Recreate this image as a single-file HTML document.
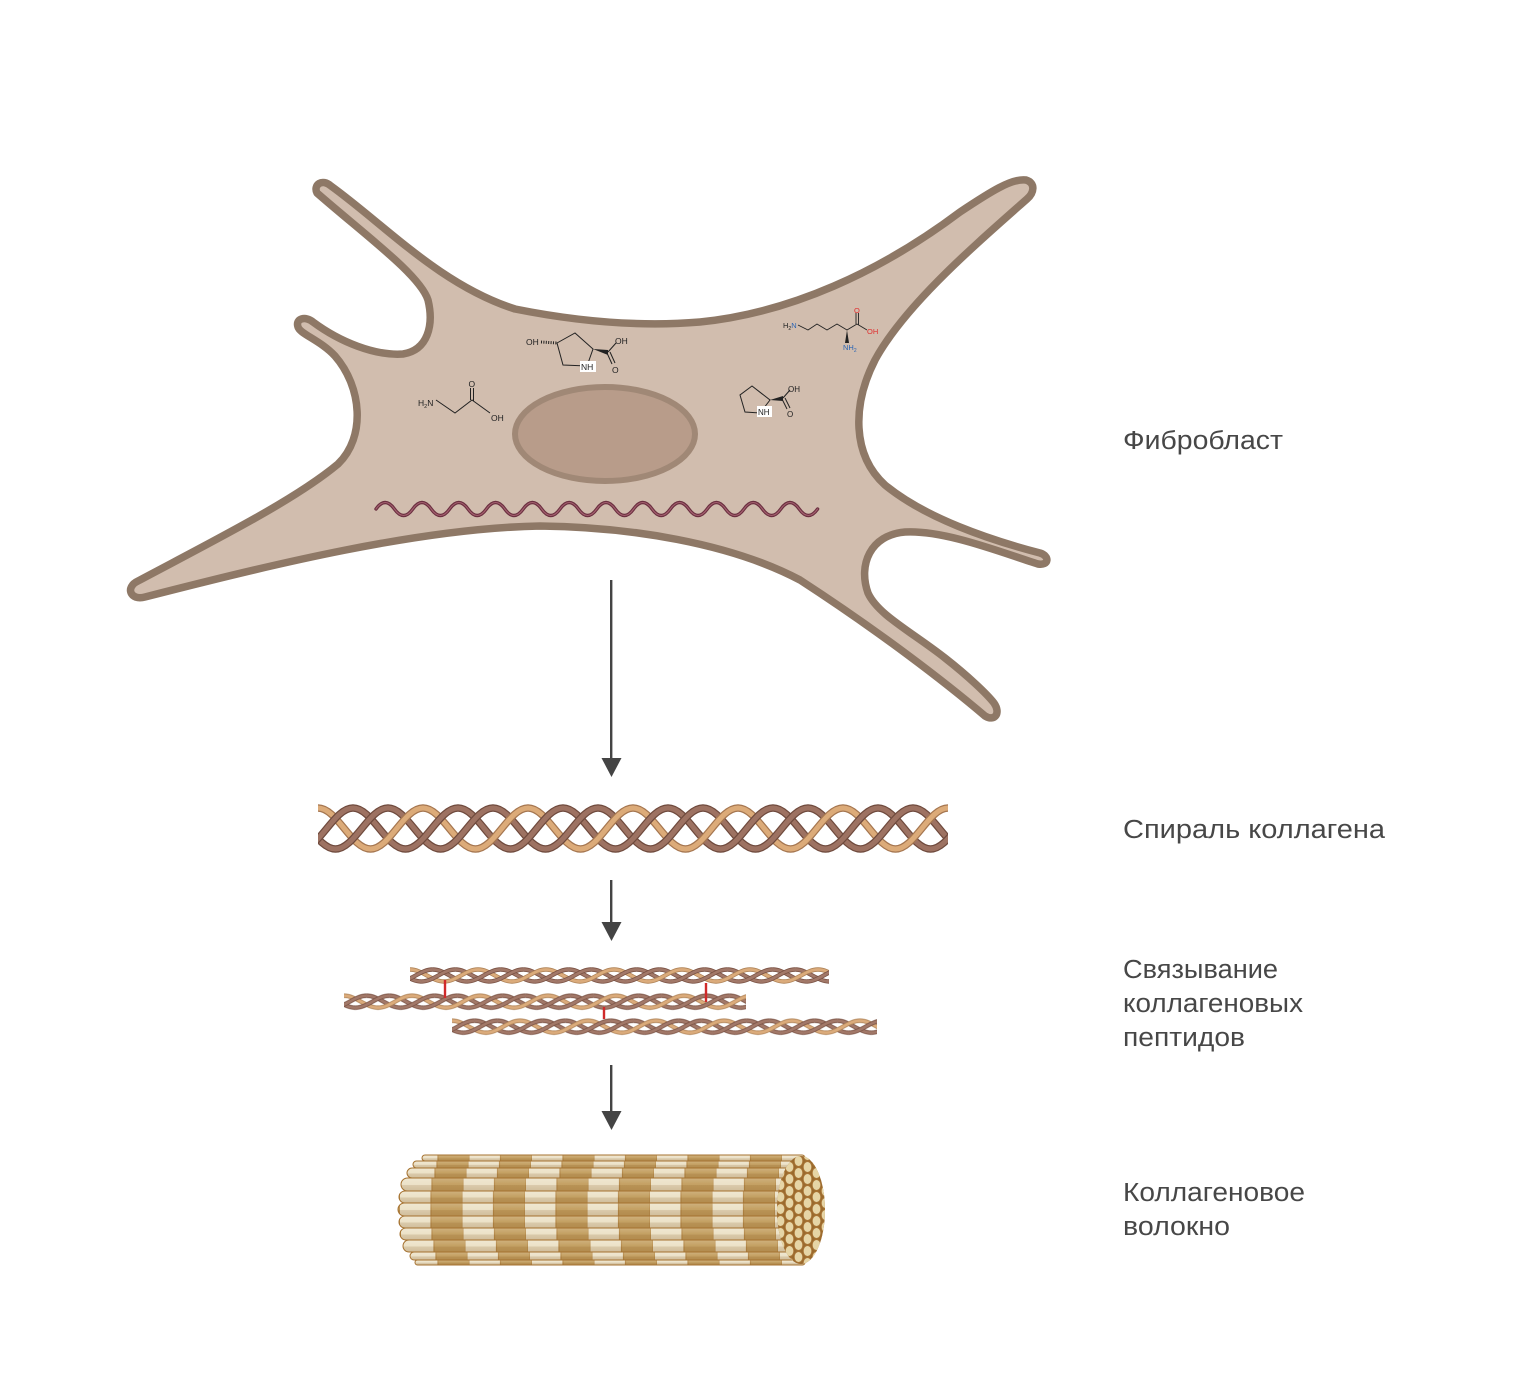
<!DOCTYPE html>
<html>
<head>
<meta charset="utf-8">
<style>
  html,body{margin:0;padding:0;background:#fff;}
  body{width:1540px;height:1374px;overflow:hidden;}
  svg{display:block;}
</style>
</head>
<body>
<svg width="1540" height="1374" viewBox="0 0 1540 1374" xmlns="http://www.w3.org/2000/svg">
<defs>
  <!-- Big triple helix tile: period 105 -->
  <pattern id="bh" patternUnits="userSpaceOnUse" x="0" y="0" width="105" height="54">
    <g fill="none" stroke-linecap="butt">
      <path d="M0 6.5C19.08 6.5 33.42 47.5 52.5 47.5" stroke="#a57650" stroke-width="7.5"/>
      <path d="M0 6.5C19.08 6.5 33.42 47.5 52.5 47.5" stroke="#dcab79" stroke-width="5"/>
      <path d="M35 6.5C54.08 6.5 68.42 47.5 87.5 47.5" stroke="#6f4a3d" stroke-width="7.5"/>
      <path d="M35 6.5C54.08 6.5 68.42 47.5 87.5 47.5" stroke="#9d7262" stroke-width="5"/>
      <path d="M70 6.5C89.08 6.5 103.42 47.5 122.5 47.5" stroke="#6f4a3d" stroke-width="7.5"/>
      <path d="M70 6.5C89.08 6.5 103.42 47.5 122.5 47.5" stroke="#9d7262" stroke-width="5"/>
      <path d="M-35 6.5C-15.92 6.5 -1.58 47.5 17.5 47.5" stroke="#6f4a3d" stroke-width="7.5"/>
      <path d="M-35 6.5C-15.92 6.5 -1.58 47.5 17.5 47.5" stroke="#9d7262" stroke-width="5"/>
      <path d="M52.5 47.5C71.58 47.5 85.92 6.5 105 6.5" stroke="#a57650" stroke-width="7.5"/>
      <path d="M52.5 47.5C71.58 47.5 85.92 6.5 105 6.5" stroke="#dcab79" stroke-width="5"/>
      <path d="M87.5 47.5C106.58 47.5 120.92 6.5 140 6.5" stroke="#6f4a3d" stroke-width="7.5"/>
      <path d="M87.5 47.5C106.58 47.5 120.92 6.5 140 6.5" stroke="#9d7262" stroke-width="5"/>
      <path d="M-17.5 47.5C1.58 47.5 15.92 6.5 35 6.5" stroke="#6f4a3d" stroke-width="7.5"/>
      <path d="M-17.5 47.5C1.58 47.5 15.92 6.5 35 6.5" stroke="#9d7262" stroke-width="5"/>
      <path d="M17.5 47.5C36.58 47.5 50.92 6.5 70 6.5" stroke="#6f4a3d" stroke-width="7.5"/>
      <path d="M17.5 47.5C36.58 47.5 50.92 6.5 70 6.5" stroke="#9d7262" stroke-width="5"/>
    </g>
  </pattern>

  <!-- Small triple helix tile: period 68 -->
  <pattern id="sh" patternUnits="userSpaceOnUse" x="0" y="0" width="68" height="20">
    <g fill="none" stroke-linecap="butt">
      <path d="M0 4C12.36 4 21.64 16 34 16" stroke="#b08458" stroke-width="4.4"/>
      <path d="M0 4C12.36 4 21.64 16 34 16" stroke="#dbab7b" stroke-width="2.8"/>
      <path d="M22.67 4C35.03 4 44.31 16 56.67 16" stroke="#7a5244" stroke-width="4.4"/>
      <path d="M22.67 4C35.03 4 44.31 16 56.67 16" stroke="#a27868" stroke-width="2.8"/>
      <path d="M45.33 4C57.69 4 66.97 16 79.33 16" stroke="#7a5244" stroke-width="4.4"/>
      <path d="M45.33 4C57.69 4 66.97 16 79.33 16" stroke="#a27868" stroke-width="2.8"/>
      <path d="M-22.67 4C-10.31 4 -1.03 16 11.33 16" stroke="#7a5244" stroke-width="4.4"/>
      <path d="M-22.67 4C-10.31 4 -1.03 16 11.33 16" stroke="#a27868" stroke-width="2.8"/>

      <path d="M34 16C46.36 16 55.64 4 68 4" stroke="#b08458" stroke-width="4.4"/>
      <path d="M34 16C46.36 16 55.64 4 68 4" stroke="#dbab7b" stroke-width="2.8"/>
      <path d="M56.67 16C69.03 16 78.31 4 90.67 4" stroke="#7a5244" stroke-width="4.4"/>
      <path d="M56.67 16C69.03 16 78.31 4 90.67 4" stroke="#a27868" stroke-width="2.8"/>
      <path d="M-11.33 16C1.03 16 10.31 4 22.67 4" stroke="#7a5244" stroke-width="4.4"/>
      <path d="M-11.33 16C1.03 16 10.31 4 22.67 4" stroke="#a27868" stroke-width="2.8"/>
      <path d="M11.33 16C23.69 16 32.97 4 45.33 4" stroke="#7a5244" stroke-width="4.4"/>
      <path d="M11.33 16C23.69 16 32.97 4 45.33 4" stroke="#a27868" stroke-width="2.8"/>
    </g>
  </pattern>

  <!-- Fibre bands -->
  <pattern id="band" patternUnits="userSpaceOnUse" x="401" y="0" width="62.5" height="2000">
    <rect x="0" y="0" width="31" height="2000" fill="#ece2c8"/>
    <rect x="31" y="0" width="31.5" height="2000" fill="#c4a062"/>
    <rect x="30.4" y="0" width="1.2" height="2000" fill="#b58a4a"/>
    <rect x="61.9" y="0" width="1.2" height="2000" fill="#b58a4a"/>
  </pattern>
  <linearGradient id="rod" x1="0" y1="0" x2="0" y2="1">
    <stop offset="0" stop-color="#ffffff" stop-opacity="0.18"/>
    <stop offset="0.5" stop-color="#ffffff" stop-opacity="0"/>
    <stop offset="0.56" stop-color="#7a4a10" stop-opacity="0.16"/>
    <stop offset="1" stop-color="#7a4a10" stop-opacity="0.24"/>
  </linearGradient>
  <!-- Fibre end-face dots -->
  <pattern id="dots" patternUnits="userSpaceOnUse" x="776" y="1155" width="18" height="12">
    <ellipse cx="4.5" cy="6" rx="4.3" ry="5.5" fill="#e6d5a6" stroke="#a87434" stroke-width="0.9"/>
    <ellipse cx="13.5" cy="0" rx="4.3" ry="5.5" fill="#e6d5a6" stroke="#a87434" stroke-width="0.9"/>
    <ellipse cx="13.5" cy="12" rx="4.3" ry="5.5" fill="#e6d5a6" stroke="#a87434" stroke-width="0.9"/>
  </pattern>
</defs>

<rect x="0" y="0" width="1540" height="1374" fill="#ffffff"/>

<!-- ============ FIBROBLAST ============ -->
<path d="M317,193
  C313,185 322,178 331,186
  C385,225 440,285 515,309
  C580,322 640,327 700,322
  C790,313 880,272 960,212
  C990,192 1012,178 1026,180
  C1036,183 1034,193 1027,199
  C975,245 905,305 875,360
  C852,405 852,455 885,485
  C925,518 990,540 1040,553
  C1050,556 1049,566 1038,564
  C1000,552 945,530 905,532
  C870,535 858,565 868,593
  C878,615 912,632 945,658
  C968,676 987,694 994,703
  C1001,713 995,722 985,716
  C945,682 880,632 800,580
  C730,543 630,527 540,526
  C420,528 270,565 145,597
  C130,601 125,587 138,581
  C215,540 295,500 338,464
  C366,437 362,387 335,356
  C320,340 300,334 298,327
  C295,318 306,316 313,322
  C340,342 375,356 403,354
  C428,350 434,325 428,300
  C420,275 365,235 317,193 Z"
  fill="#d1bdae" stroke="#8e7866" stroke-width="7.5" stroke-linejoin="round"/>

<!-- nucleus -->
<ellipse cx="605" cy="434" rx="90" ry="47" fill="#b89c8a" stroke="#a08876" stroke-width="6"/>

<!-- mRNA wave -->
<path d="M376 509q9.2 -13 18.4 0t18.4 0t18.4 0t18.4 0t18.4 0t18.4 0t18.4 0t18.4 0t18.4 0t18.4 0t18.4 0t18.4 0t18.4 0t18.4 0t18.4 0t18.4 0t18.4 0t18.4 0t18.4 0t18.4 0t18.4 0t18.4 0t18.4 0t18.4 0"
  fill="none" stroke="#6b3040" stroke-width="3.4" stroke-linecap="round"/>
<path d="M376 509q9.2 -13 18.4 0t18.4 0t18.4 0t18.4 0t18.4 0t18.4 0t18.4 0t18.4 0t18.4 0t18.4 0t18.4 0t18.4 0t18.4 0t18.4 0t18.4 0t18.4 0t18.4 0t18.4 0t18.4 0t18.4 0t18.4 0t18.4 0t18.4 0t18.4 0"
  fill="none" stroke="#a4606f" stroke-width="1.1" stroke-linecap="round"/>

<!-- molecules -->
<g font-family="'Liberation Sans', sans-serif" fill="#222">
  <!-- glycine -->
  <g stroke="#222" stroke-width="1" fill="none">
    <polyline points="436,400 455,413 472,400 490,413"/>
    <line x1="470.5" y1="400" x2="470.5" y2="388"/>
    <line x1="473.5" y1="401" x2="473.5" y2="388"/>
  </g>
  <text x="418" y="406" font-size="8.5">H<tspan font-size="5.5" dy="2">2</tspan><tspan dy="-2">N</tspan></text>
  <text x="468.5" y="387" font-size="8.5">O</text>
  <text x="491" y="421" font-size="8.5">OH</text>

  <!-- hydroxyproline -->
  <g stroke="#222" stroke-width="1" fill="none">
    <polygon points="557,343 575,333 593,349 587,366 563,365"/>
    <line x1="608" y1="352" x2="616" y2="343"/>
    <line x1="607" y1="353" x2="612" y2="364"/>
    <line x1="610" y1="352" x2="615" y2="363"/>
    <line x1="541" y1="342" x2="557" y2="343" stroke-width="3" stroke-dasharray="1 1.4"/>
  </g>
  <polygon points="593,349 608,350 608,355" fill="#222"/>
  <rect x="580" y="361" width="16" height="11" fill="#fff"/>
  <text x="581" y="370" font-size="8.5">NH</text>
  <text x="526" y="345" font-size="8.5">OH</text>
  <text x="615" y="344" font-size="8.5">OH</text>
  <text x="612" y="373" font-size="8.5">O</text>

  <!-- proline -->
  <g stroke="#222" stroke-width="1" fill="none">
    <polygon points="752,386 740,395 745,412 760,413 770,400"/>
    <line x1="783" y1="398" x2="790" y2="390"/>
    <line x1="782" y1="399" x2="787" y2="409"/>
    <line x1="785" y1="398" x2="790" y2="408"/>
  </g>
  <polygon points="770,400 783,396 783,401" fill="#222"/>
  <rect x="757" y="406" width="15" height="11" fill="#fff"/>
  <text x="758" y="415" font-size="8">NH</text>
  <text x="788" y="392" font-size="8">OH</text>
  <text x="787" y="417" font-size="8">O</text>

  <!-- lysine -->
  <g stroke="#222" stroke-width="0.9" fill="none">
    <polyline points="798,325 808,330 817,324 827,330 837,324 847,330 857,324"/>
    <line x1="856" y1="324" x2="856" y2="313"/>
    <line x1="858.5" y1="325" x2="858.5" y2="313"/>
    <line x1="857" y1="324" x2="867" y2="330"/>
  </g>
  <polygon points="847,330 845,343 849,343" fill="#222"/>
  <text x="783" y="328" font-size="7.5">H<tspan font-size="5" dy="2">2</tspan><tspan dy="-2" fill="#2a64b4">N</tspan></text>
  <text x="854" y="313" font-size="7.5" fill="#e03030">O</text>
  <text x="867" y="334" font-size="7.5" fill="#e03030">OH</text>
  <text x="843" y="350" font-size="7.5" fill="#2a64b4">NH<tspan font-size="5" dy="2">2</tspan></text>
</g>

<!-- ============ ARROWS ============ -->
<g fill="#444" stroke="none">
  <rect x="610" y="580" width="2.4" height="180"/>
  <polygon points="601.5,758 621.5,758 611.5,777"/>
  <rect x="610" y="880" width="2.4" height="44"/>
  <polygon points="601.5,922 621.5,922 611.5,941"/>
  <rect x="610" y="1065" width="2.4" height="48"/>
  <polygon points="601.5,1111 621.5,1111 611.5,1130"/>
</g>

<!-- ============ COLLAGEN HELIX ============ -->
<g transform="translate(318,801.5)">
  <rect x="0" y="0" width="630" height="54" fill="url(#bh)"/>
</g>

<!-- ============ CROSSLINKED PEPTIDES ============ -->
<g transform="translate(410,965.5)">
  <rect x="0" y="0" width="419" height="20" fill="url(#sh)"/>
</g>
<g transform="translate(344,991.7)">
  <rect x="0" y="0" width="402" height="20" fill="url(#sh)"/>
</g>
<g transform="translate(452,1016.7)">
  <rect x="0" y="0" width="425" height="20" fill="url(#sh)"/>
</g>
<g stroke="#d02a2a" stroke-width="2.4">
  <line x1="445" y1="980" x2="445" y2="998"/>
  <line x1="706" y1="983" x2="706" y2="1002"/>
  <line x1="604" y1="1007" x2="604" y2="1019"/>
</g>

<!-- ============ COLLAGEN FIBRE ============ -->
<g>
  <g transform="translate(6 0)"><rect x="416" y="1155" width="383" height="6" rx="3" fill="url(#band)"/></g>
  <rect x="422" y="1155" width="383" height="6" rx="3" fill="url(#rod)" stroke="#a5712f" stroke-width="1"/>

  <g transform="translate(5 0)"><rect x="408" y="1161" width="392" height="7" rx="3.5" fill="url(#band)"/></g>
  <rect x="413" y="1161" width="392" height="7" rx="3.5" fill="url(#rod)" stroke="#a5712f" stroke-width="1"/>

  <g transform="translate(3 0)"><rect x="404" y="1168" width="398" height="10" rx="5" fill="url(#band)"/></g>
  <rect x="407" y="1168" width="398" height="10" rx="5" fill="url(#rod)" stroke="#a5712f" stroke-width="1"/>

  <g transform="translate(0 0)"><rect x="401" y="1178" width="404" height="13" rx="6.5" fill="url(#band)"/></g>
  <rect x="401" y="1178" width="404" height="13" rx="6.5" fill="url(#rod)" stroke="#a5712f" stroke-width="1"/>

  <g transform="translate(-1 0)"><rect x="400" y="1191" width="406" height="12" rx="6" fill="url(#band)"/></g>
  <rect x="399" y="1191" width="406" height="12" rx="6" fill="url(#rod)" stroke="#a5712f" stroke-width="1"/>

  <g transform="translate(-1 0)"><rect x="399" y="1203" width="407" height="13" rx="6.5" fill="url(#band)"/></g>
  <rect x="398" y="1203" width="407" height="13" rx="6.5" fill="url(#rod)" stroke="#a5712f" stroke-width="1"/>

  <g transform="translate(-1 0)"><rect x="400" y="1216" width="406" height="12" rx="6" fill="url(#band)"/></g>
  <rect x="399" y="1216" width="406" height="12" rx="6" fill="url(#rod)" stroke="#a5712f" stroke-width="1"/>

  <g transform="translate(0 0)"><rect x="400" y="1228" width="405" height="12" rx="6" fill="url(#band)"/></g>
  <rect x="400" y="1228" width="405" height="12" rx="6" fill="url(#rod)" stroke="#a5712f" stroke-width="1"/>

  <g transform="translate(2 0)"><rect x="401" y="1240" width="402" height="12" rx="6" fill="url(#band)"/></g>
  <rect x="403" y="1240" width="402" height="12" rx="6" fill="url(#rod)" stroke="#a5712f" stroke-width="1"/>

  <g transform="translate(4 0)"><rect x="406" y="1252" width="395" height="8" rx="4" fill="url(#band)"/></g>
  <rect x="410" y="1252" width="395" height="8" rx="4" fill="url(#rod)" stroke="#a5712f" stroke-width="1"/>

  <g transform="translate(6 0)"><rect x="409" y="1260" width="390" height="5" rx="2.5" fill="url(#band)"/></g>
  <rect x="415" y="1260" width="390" height="5" rx="2.5" fill="url(#rod)" stroke="#a5712f" stroke-width="1"/>

  <!-- end face -->
  <ellipse cx="801" cy="1210" rx="24" ry="54" fill="#9a6a2e"/>
  <ellipse cx="801" cy="1210" rx="24" ry="54" fill="url(#dots)"/>
</g>

<!-- ============ LABELS ============ -->
<g font-family="'Liberation Sans', Arial, sans-serif" font-size="25.5" fill="#474747">
  <text x="1123" y="449" textLength="160" lengthAdjust="spacingAndGlyphs">Фибробласт</text>
  <text x="1123" y="838" textLength="262" lengthAdjust="spacingAndGlyphs">Спираль коллагена</text>
  <text x="1123" y="978" textLength="155" lengthAdjust="spacingAndGlyphs">Связывание</text>
  <text x="1123" y="1012" textLength="180" lengthAdjust="spacingAndGlyphs">коллагеновых</text>
  <text x="1123" y="1046" textLength="122" lengthAdjust="spacingAndGlyphs">пептидов</text>
  <text x="1123" y="1201" textLength="182" lengthAdjust="spacingAndGlyphs">Коллагеновое</text>
  <text x="1123" y="1235" textLength="107" lengthAdjust="spacingAndGlyphs">волокно</text>
</g>
</svg>
</body>
</html>
